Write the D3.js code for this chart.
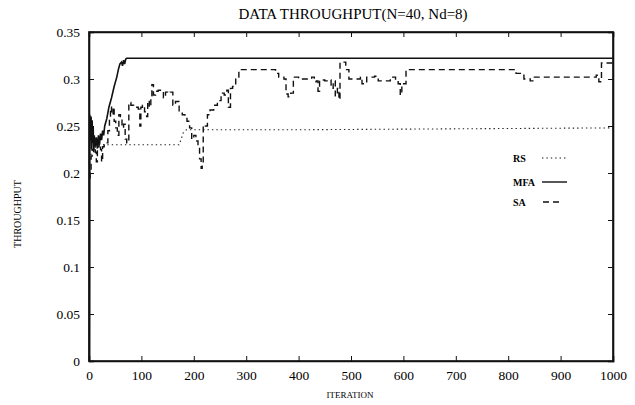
<!DOCTYPE html>
<html>
<head>
<meta charset="utf-8">
<script src="https://cdn.jsdelivr.net/npm/d3@7"></script>
<style>
  body { margin: 0; background: #fff; }
  svg { display: block; }
  .tick text { font-family: "Liberation Serif", serif; font-size: 13.5px; fill: #000; }
</style>
</head>
<body>
<div id="chart"></div>
<script>
// chart values
var xTicks = [0, 100, 200, 300, 400, 500, 600, 700, 800, 900, 1000];
var yTicks = [0, 0.05, 0.1, 0.15, 0.2, 0.25, 0.3, 0.35];

var rsIter = [0, 3, 6, 10, 15, 22, 30, 100, 172, 176, 180, 186, 400, 700, 1000];
var rsThru = [0.21, 0.218, 0.224, 0.226, 0.229, 0.23, 0.23, 0.23, 0.23, 0.236, 0.243, 0.246, 0.246, 0.247, 0.248];

var mfaIter = [0, 0.8, 1.5, 2, 3, 4, 5, 6, 7, 8, 9, 10, 12, 14, 16, 18, 20, 22, 24, 26, 28, 30, 34, 38, 43, 48, 53, 56, 59, 62, 64, 66, 68, 70, 72, 80, 200, 500, 1000];
var mfaThru = [0, 0.0, 0.262, 0.245, 0.235, 0.26, 0.225, 0.256, 0.232, 0.25, 0.222, 0.24, 0.228, 0.238, 0.226, 0.24, 0.23, 0.242, 0.235, 0.245, 0.24, 0.25, 0.258, 0.27, 0.28, 0.292, 0.302, 0.31, 0.316, 0.318, 0.314, 0.32, 0.316, 0.321, 0.322, 0.322, 0.322, 0.322, 0.322];

var saIter = [0, 2, 4, 6, 9, 12, 14, 16, 19, 22, 24, 26, 29, 33, 36, 39, 41, 43, 46, 48, 51, 54, 57, 60, 63, 66, 69, 72, 76, 80, 85, 90, 94, 97, 99, 102, 106, 110, 112, 115, 118, 120, 123, 127, 132, 137, 142, 146, 150, 155, 160, 165, 172, 178, 183, 187, 192, 196, 200, 204, 208, 211, 214, 216, 218, 222, 226, 231, 238, 245, 252, 258, 263, 266, 270, 274, 280, 286, 352, 356, 362, 372, 376, 380, 385, 390, 400, 425, 430, 434, 437, 440, 450, 458, 462, 466, 470, 474, 477, 479, 483, 490, 496, 518, 521, 530, 545, 552, 575, 585, 590, 594, 597, 605, 815, 822, 830, 842, 850, 968, 970, 973, 978, 1000];
var saThru = [0.195, 0.2, 0.218, 0.225, 0.228, 0.222, 0.212, 0.228, 0.232, 0.225, 0.212, 0.228, 0.23, 0.232, 0.245, 0.258, 0.27, 0.262, 0.27, 0.255, 0.248, 0.24, 0.262, 0.26, 0.248, 0.252, 0.236, 0.232, 0.275, 0.272, 0.27, 0.27, 0.268, 0.25, 0.27, 0.272, 0.265, 0.26, 0.277, 0.27, 0.282, 0.294, 0.283, 0.287, 0.288, 0.288, 0.28, 0.286, 0.285, 0.286, 0.272, 0.276, 0.265, 0.262, 0.258, 0.255, 0.248, 0.236, 0.24, 0.234, 0.228, 0.215, 0.205, 0.21, 0.251, 0.25, 0.262, 0.267, 0.272, 0.277, 0.285, 0.283, 0.288, 0.27, 0.29, 0.292, 0.302, 0.31, 0.31, 0.306, 0.302, 0.3, 0.284, 0.281, 0.285, 0.302, 0.3, 0.302, 0.297, 0.298, 0.287, 0.299, 0.298, 0.299, 0.29, 0.298, 0.282, 0.29, 0.278, 0.318, 0.318, 0.31, 0.3, 0.302, 0.295, 0.302, 0.303, 0.298, 0.302, 0.298, 0.295, 0.283, 0.295, 0.31, 0.306, 0.306, 0.3, 0.298, 0.302, 0.304, 0.304, 0.297, 0.317, 0.318, 0.319];

var seriesNames = ["RS", "MFA", "SA"];

var svgWidth = 635;
var svgHeight = 405;
var margin = { top: 32, right: 22, bottom: 44, left: 89 };
var width = svgWidth - margin.left - margin.right;
var height = svgHeight - margin.top - margin.bottom;

var svg = d3.select("#chart").append("svg")
    .attr("width", svgWidth)
    .attr("height", svgHeight);

var chartGroup = svg.append("g")
    .attr("transform", `translate(${margin.left}, ${margin.top})`);

var xScale = d3.scaleLinear().domain([0, 1000]).range([0, width]);
var yScale = d3.scaleLinear().domain([0, 0.35]).range([height, 0]);

// axes, ticks point inward like the original
var fmtY = d => d === 0 ? "0" : String(+d.toFixed(2));
chartGroup.append("g")
    .attr("transform", `translate(0, ${height})`)
    .call(d3.axisBottom(xScale).tickValues(xTicks).tickSize(-5).tickPadding(9).tickFormat(d3.format("d")));
chartGroup.append("g")
    .call(d3.axisLeft(yScale).tickValues(yTicks).tickSize(-5).tickPadding(9).tickFormat(fmtY));
chartGroup.append("g")
    .call(d3.axisTop(xScale).tickValues(xTicks).tickSize(-5).tickFormat(""));
chartGroup.append("g")
    .attr("transform", `translate(${width}, 0)`)
    .call(d3.axisRight(yScale).tickValues(yTicks).tickSize(-5).tickFormat(""));

chartGroup.selectAll(".domain").attr("stroke", "#111").attr("stroke-width", 1.6);
chartGroup.selectAll(".tick line").attr("stroke", "#111").attr("stroke-width", 1);

// frame
chartGroup.append("rect")
    .attr("width", width).attr("height", height)
    .attr("fill", "none").attr("stroke", "#111").attr("stroke-width", 1.6);

function series(iters, vals) {
    return iters.map((x, i) => [x, vals[i]]);
}

var line = d3.line().x(d => xScale(d[0])).y(d => yScale(d[1]));
var stepLine = d3.line().x(d => xScale(d[0])).y(d => yScale(d[1])).curve(d3.curveStepAfter);

chartGroup.append("path")
    .datum(series(rsIter, rsThru))
    .attr("d", line)
    .attr("fill", "none").attr("stroke", "#222").attr("stroke-width", 1.1)
    .attr("stroke-dasharray", "1.4,3");

chartGroup.append("path")
    .datum(series(saIter, saThru))
    .attr("d", stepLine)
    .attr("fill", "none").attr("stroke", "#111").attr("stroke-width", 1.4)
    .attr("stroke-dasharray", "6,4");

chartGroup.append("path")
    .datum(series(mfaIter, mfaThru))
    .attr("d", line)
    .attr("fill", "none").attr("stroke", "#111").attr("stroke-width", 1.6);

// legend
var legendDash = ["1.4,3", null, "6,4"];
var legendY = [126, 150, 170];
var legend = chartGroup.selectAll(".legend").data(seriesNames).enter().append("g")
    .attr("class", "legend")
    .attr("transform", (d, i) => `translate(424, ${legendY[i]})`);
legend.append("text")
    .text(d => d)
    .attr("y", 4)
    .attr("font-family", "Liberation Serif, serif")
    .attr("font-size", "10px")
    .attr("font-weight", "bold")
    .attr("fill", "#000");
legend.append("line")
    .attr("x1", (d, i) => i === 2 ? 30 : 29).attr("x2", (d, i) => i === 2 ? 48 : 54)
    .attr("stroke", "#111").attr("stroke-width", (d, i) => i === 0 ? 1.1 : 1.4)
    .attr("stroke-dasharray", (d, i) => legendDash[i]);

// title and axis labels
svg.append("text")
    .attr("x", 353).attr("y", 19)
    .attr("text-anchor", "middle")
    .attr("font-family", "Liberation Serif, serif")
    .attr("font-size", "15px")
    .attr("fill", "#000")
    .text("DATA THROUGHPUT(N=40, Nd=8)");

svg.append("text")
    .attr("x", 350).attr("y", 398)
    .attr("text-anchor", "middle")
    .attr("font-family", "Liberation Serif, serif")
    .attr("font-size", "9px")
    .attr("fill", "#000")
    .text("ITERATION");

svg.append("text")
    .attr("transform", "translate(21, 214) rotate(-90)")
    .attr("text-anchor", "middle")
    .attr("font-family", "Liberation Serif, serif")
    .attr("font-size", "10px")
    .attr("fill", "#000")
    .text("THROUGHPUT");
</script>
</body>
</html>
